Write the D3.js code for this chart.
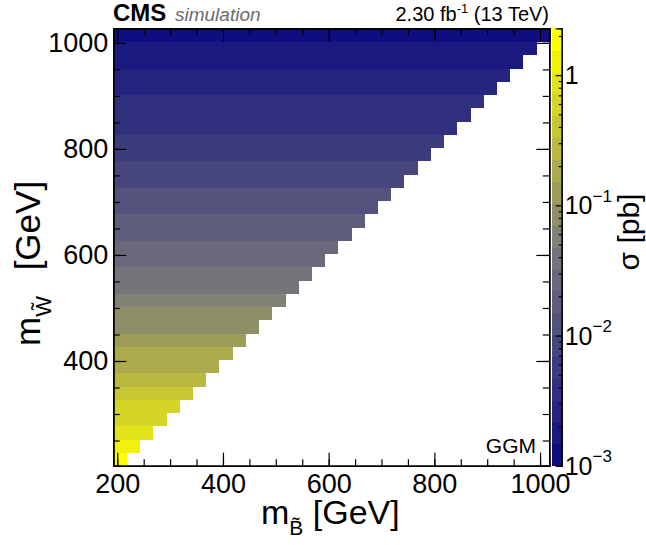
<!DOCTYPE html>
<html>
<head>
  <meta charset='utf-8'>
  <title>GGM cross section</title>
  <script src="https://d3js.org/d3.v7.min.js"></script>
  <style>
    body { margin: 0; background: #fff; }
    text { font-family: 'Liberation Sans', Arial, Helvetica, sans-serif; }
  </style>
</head>
<body>
  <svg id='chart' width=646 height=545></svg>

<script>

  // bin centres (GeV)
  const binoMass = [205, 230, 255, 280, 305, 330, 355, 380, 405, 430, 455, 480, 505, 530, 555, 580, 605,
                    630, 655, 680, 705, 730, 755, 780, 805, 830, 855, 880, 905, 930, 955, 980, 1005];
  const winoMass = [215, 240, 265, 290, 315, 340, 365, 390, 415, 440, 465, 490, 515, 540, 565, 590, 615,
                    640, 665, 690, 715, 740, 765, 790, 815, 840, 865, 890, 915, 940, 965, 990, 1015];
  // cross section in pb, one per wino row
  const xsec = [1.82, 1.26, 0.89, 0.676, 0.525, 0.407, 0.302, 0.215, 0.166, 0.129, 0.100, 0.0813, 0.0646,
                0.0457, 0.0363, 0.0302, 0.0245, 0.0209, 0.0170, 0.0141, 0.0112, 0.00955, 0.00794, 0.00661,
                0.00537, 0.00457, 0.00398, 0.00339, 0.00302, 0.00251, 0.00209, 0.00178, 0.00138];

  const xTicks = [200, 400, 600, 800, 1000];
  const yTicks = [400, 600, 800, 1000];
  const zTicks = [0.001, 0.01, 0.1, 1];
  const zLabels = [['10', '\u22123'], ['10', '\u22122'], ['10', '\u22121'], ['1', '']];

  let binW = 25;
  let nColors = 20;
  let zMin = 0.001, zMax = 2.29;

  let pLeft = 113.3, pRight = 549.3, pTop = 28.3, pBottom = 465.7;
  let svg = d3.select('#chart');

  let x = d3.scaleLinear().domain([192.5, 1017.5]).range([pLeft, pRight]);
  let y = d3.scaleLinear().domain([202.5, 1027.5]).range([pBottom, pTop]);

  let palette = d3.piecewise(d3.interpolateRgb, ['#0e0e80', '#7a7a7a', '#ffff00']);
  let colors = d3.quantize(palette, nColors);
  let color = d3.scaleQuantize()
    .domain([Math.log10(zMin), Math.log10(zMax)])
    .range(colors);

  // cells: only m_bino < m_wino is filled
  let cells = [];
  winoMass.forEach(function (w, i) {
    binoMass.forEach(function (b) {
      if (b < w) cells.push({b: b, w: w, s: xsec[i]});
    });
  });

  svg.append('g')
    .attr('shape-rendering', 'crispEdges')
    .selectAll('rect')
    .data(cells)
    .enter()
      .append('rect')
      .attr('x', d => x(d.b - binW/2))
      .attr('y', d => y(d.w + binW/2))
      .attr('width', d => x(d.b + binW/2) - x(d.b - binW/2) + 0.5)
      .attr('height', d => y(d.w - binW/2) - y(d.w + binW/2) + 0.5)
      .attr('fill', d => color(Math.log10(d.s)));

  // axes, ticks pointing inwards
  function styleAxis(g) {
    g.selectAll('path').attr('stroke', '#000').attr('stroke-width', 1.5);
    g.selectAll('line').attr('stroke', '#000').attr('stroke-width', 1.2);
    g.selectAll('text').attr('font-size', '27px').attr('fill', '#000')
      .attr('font-family', "'Liberation Sans', Arial, sans-serif");
  }
  let minorX = d3.range(200, 1001, 50), minorY = d3.range(250, 1001, 50);
  let fmt = d3.format('d');

  svg.append('g').attr('transform', `translate(0,${pBottom})`)
    .call(d3.axisBottom(x).tickValues(minorX).tickSize(-6.5).tickFormat(''))
    .call(styleAxis);
  svg.append('g').attr('transform', `translate(0,${pBottom})`)
    .call(d3.axisBottom(x).tickValues(xTicks).tickFormat(fmt).tickSizeInner(-13).tickSizeOuter(0).tickPadding(8))
    .call(styleAxis);
  svg.append('g').attr('transform', `translate(0,${pTop})`)
    .call(d3.axisTop(x).tickValues(minorX).tickSize(-6.5).tickFormat(''))
    .call(styleAxis);
  svg.append('g').attr('transform', `translate(0,${pTop})`)
    .call(d3.axisTop(x).tickValues(xTicks).tickSize(-13).tickFormat(''))
    .call(styleAxis);

  svg.append('g').attr('transform', `translate(${pLeft},0)`)
    .call(d3.axisLeft(y).tickValues(minorY).tickSize(-6.5).tickFormat(''))
    .call(styleAxis);
  svg.append('g').attr('transform', `translate(${pLeft},0)`)
    .call(d3.axisLeft(y).tickValues(yTicks).tickFormat(fmt).tickSizeInner(-13).tickSizeOuter(0).tickPadding(5))
    .call(styleAxis);
  svg.append('g').attr('transform', `translate(${pRight},0)`)
    .call(d3.axisRight(y).tickValues(minorY).tickSize(-6.5).tickFormat(''))
    .call(styleAxis);
  svg.append('g').attr('transform', `translate(${pRight},0)`)
    .call(d3.axisRight(y).tickValues(yTicks).tickSize(-13).tickFormat(''))
    .call(styleAxis);

  // colour bar
  let zx0 = 551.7, zx1 = 561.7;
  let z = d3.scaleLog().domain([zMin, zMax]).range([pBottom, pTop]);
  let lo = Math.log10(zMin), step = (Math.log10(zMax) - lo) / nColors;
  svg.append('g')
    .attr('shape-rendering', 'crispEdges')
    .selectAll('rect')
    .data(colors)
    .enter()
      .append('rect')
      .attr('x', zx0)
      .attr('width', zx1 - zx0)
      .attr('y', (d, i) => z(Math.pow(10, lo + (i + 1) * step)))
      .attr('height', (d, i) => z(Math.pow(10, lo + i * step)) - z(Math.pow(10, lo + (i + 1) * step)) + 0.5)
      .attr('fill', d => d);

  let zMinor = [];
  [0.001, 0.01, 0.1, 1].forEach(function (dec) {
    for (let k = 2; k <= 9; k++) if (dec * k <= zMax) zMinor.push(dec * k);
  });
  let zAxis = svg.append('g').attr('transform', `translate(${zx1},0)`);
  zAxis.call(d3.axisRight(z).tickValues(zMinor).tickSize(-3).tickFormat(''))
    .call(styleAxis);
  zAxis.append('g')
    .call(d3.axisRight(z).tickValues(zTicks).tickSize(-6).tickFormat(''))
    .call(styleAxis);
  zAxis.selectAll('path').attr('stroke-width', 1.2);

  let zl = svg.append('g')
    .selectAll('text')
    .data(zTicks)
    .enter()
      .append('text')
      .attr('x', zx1 + 3)
      .attr('y', d => z(d))
      .attr('dy', '0.36em')
      .attr('font-size', '25px');
  zl.append('tspan').text((d, i) => zLabels[i][0]);
  zl.append('tspan')
    .attr('font-size', '17px')
    .attr('dy', '-0.75em')
    .text((d, i) => zLabels[i][1]);

  // titles
  let xt = svg.append('text')
    .attr('x', 261).attr('y', 524)
    .attr('font-size', '34px');
  xt.append('tspan').text('m');
  xt.append('tspan').attr('font-size', '21px').attr('dy', 11).text('B\u0303');
  xt.append('tspan').attr('dy', -11).text(' [GeV]');

  let yt = svg.append('text')
    .attr('transform', 'translate(40,346) rotate(-90)')
    .attr('font-size', '35px');
  yt.append('tspan').text('m');
  yt.append('tspan').attr('font-size', '22px').attr('dy', 11).text('W\u0303');
  yt.append('tspan').attr('dy', -11).attr('dx', 16).text(' [GeV]');

  svg.append('text')
    .attr('transform', 'translate(639,232) rotate(-90)')
    .attr('text-anchor', 'middle')
    .attr('font-size', '30px')
    .text('\u03c3 [pb]');

  svg.append('text')
    .attr('x', 113).attr('y', 20.7)
    .attr('font-size', '24px').attr('font-weight', 'bold')
    .text('CMS');
  svg.append('text')
    .attr('x', 175).attr('y', 20.7)
    .attr('font-size', '19px').attr('font-style', 'italic').attr('fill', '#6b6b6b')
    .text('simulation');

  let lumi = svg.append('text')
    .attr('x', 549).attr('y', 20.7)
    .attr('text-anchor', 'end')
    .attr('font-size', '20px');
  lumi.append('tspan').text('2.30 fb');
  lumi.append('tspan').attr('font-size', '13px').attr('dy', -8).text('-1');
  lumi.append('tspan').attr('dy', 8).text(' (13 TeV)');

  svg.append('text')
    .attr('x', 536).attr('y', 453)
    .attr('text-anchor', 'end')
    .attr('font-size', '21px')
    .text('GGM');

</script>
</body>
</html>
